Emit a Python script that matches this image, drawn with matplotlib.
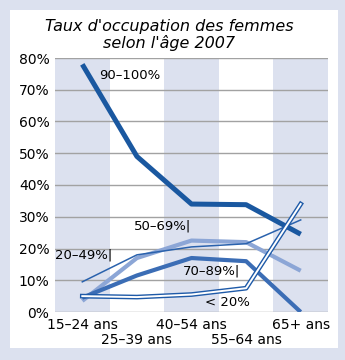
import matplotlib
matplotlib.use("Agg")
import matplotlib.pyplot as plt
from matplotlib.patches import Rectangle
import numpy as np

ages = ["15–24 ans", "25–39 ans", "40–54 ans", "55–64 ans", "65+ ans"]
s_90_100 = [78, 49, 34, 33.8, 24.5]
s_70_89 = [4.5, 11.5, 17, 16, 0]
s_50_69 = [3.5, 17, 22.5, 22, 13]
s_20_49 = [9.5, 18, 20.5, 21.5, 29]
s_lt20 = [5, 4.7, 5.5, 7.5, 34]
yticks = [0, 10, 20, 30, 40, 50, 60, 70, 80]

lav = "#dce1ef"
fig = plt.figure(figsize=(3.45, 3.6), dpi=100)
fig.patch.set_facecolor(lav)
fig.patches.append(Rectangle((10/345, 12/360), 328/345, 338/360,
                             transform=fig.transFigure, facecolor="white",
                             edgecolor="none", zorder=-5))

ax = fig.add_axes([55/345, 48/360, 273/345, 254/360])
ax.set_facecolor("none")
x = np.arange(len(ages))
for i in x[::2]:
    ax.axvspan(i - 0.5, i + 0.5, color=lav, lw=0, zorder=0)
for v in yticks:
    ax.axhline(v, color="#a2a2a2", lw=1.0, zorder=1)

ax.plot(x, s_50_69, color="#8ca6d6", lw=3, solid_capstyle="butt", zorder=3)
ax.plot(x, s_20_49, color="#2a62ad", lw=1.1, zorder=4)
ax.plot(x, s_70_89, color="#3b6db5", lw=3, solid_capstyle="butt", zorder=3)
ax.plot(x, s_90_100, color="#1a58a0", lw=3.6, solid_capstyle="butt", zorder=5)
ax.plot(x, s_lt20, color="#1e5aa8", lw=3.4, zorder=6)
ax.plot(x, s_lt20, color="white", lw=1.4, zorder=7)

ax.set_xlim(-0.5, 4.5)
ax.set_ylim(0, 80)
ax.set_yticks(yticks)
ax.set_yticklabels([f"{v}%" for v in yticks], fontsize=10)
ax.set_xticks([])
for s in ax.spines.values():
    s.set_visible(False)
ax.tick_params(axis="y", length=0, pad=4)

for i, lab in enumerate(ages):
    yy = -1.8 if i % 2 == 0 else -6.6
    ax.text(i, yy, lab, ha="center", va="top", fontsize=10)

ax.text(0.3, 74.5, "90–100%", fontsize=9.5, va="center")
ax.text(0.95, 27, "50–69%|", fontsize=9.5, va="center")
ax.text(-0.5, 18, "20–49%|", fontsize=9.5, va="center")
ax.text(1.85, 12.8, "70–89%|", fontsize=9.5, va="center")
ax.text(2.25, 2.9, "< 20%", fontsize=9.5, va="center")

fig.text(0.49, 0.902, "Taux d'occupation des femmes\nselon l'âge 2007",
         ha="center", va="center", fontsize=11.5, style="italic",
         linespacing=1.05)

fig.savefig("out.png", dpi=100)
